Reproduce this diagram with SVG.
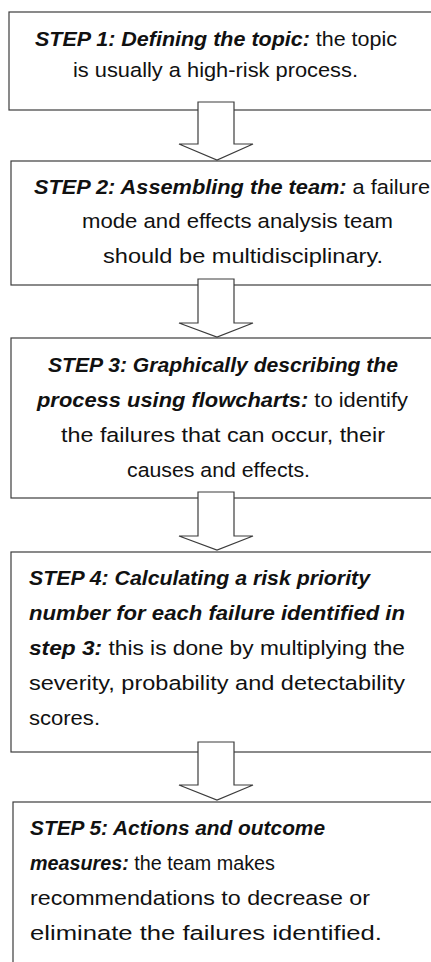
<svg xmlns="http://www.w3.org/2000/svg" width="431" height="962" viewBox="0 0 431 962">
<style>
.box{fill:#fff;stroke:#3c3c3c;stroke-width:1.2}
.arr{fill:#fff;stroke:#3c3c3c;stroke-width:1.2;stroke-linejoin:miter}
text{font-family:"Liberation Sans",Arial,sans-serif;font-size:20.5px;fill:#111}
.b{font-weight:bold;font-style:italic}
</style>
<rect width="431" height="962" fill="#fff"/>
<g id="step1">
<rect class="box" x="9" y="12" width="440" height="98"/>
<text x="35" y="46" textLength="362" lengthAdjust="spacingAndGlyphs"><tspan class="b">STEP 1: Defining the topic:</tspan> the topic</text>
<text x="73" y="77" textLength="285" lengthAdjust="spacingAndGlyphs">is usually a high-risk process.</text>
</g>
<g id="step2">
<rect class="box" x="11" y="161" width="440" height="124"/>
<text x="34" y="194" textLength="396" lengthAdjust="spacingAndGlyphs"><tspan class="b">STEP 2: Assembling the team:</tspan> a failure</text>
<text x="82" y="228" textLength="311" lengthAdjust="spacingAndGlyphs">mode and effects analysis team</text>
<text x="103" y="263" textLength="280" lengthAdjust="spacingAndGlyphs">should be multidisciplinary.</text>
</g>
<g id="step3">
<rect class="box" x="11" y="338" width="440" height="160"/>
<text x="48" y="372" textLength="350" lengthAdjust="spacingAndGlyphs"><tspan class="b">STEP 3: Graphically describing the</tspan></text>
<text x="37" y="407" textLength="371" lengthAdjust="spacingAndGlyphs"><tspan class="b">process using flowcharts:</tspan> to identify</text>
<text x="61" y="442" textLength="324" lengthAdjust="spacingAndGlyphs">the failures that can occur, their</text>
<text x="127" y="477" textLength="183" lengthAdjust="spacingAndGlyphs">causes and effects.</text>
</g>
<g id="step4">
<rect class="box" x="11" y="552" width="440" height="200"/>
<text x="29" y="585" textLength="341" lengthAdjust="spacingAndGlyphs"><tspan class="b">STEP 4: Calculating a risk priority</tspan></text>
<text x="29" y="620" textLength="376" lengthAdjust="spacingAndGlyphs"><tspan class="b">number for each failure identified in</tspan></text>
<text x="29" y="655" textLength="376" lengthAdjust="spacingAndGlyphs"><tspan class="b">step 3:</tspan> this is done by multiplying the</text>
<text x="29" y="690" textLength="376" lengthAdjust="spacingAndGlyphs">severity, probability and detectability</text>
<text x="29" y="725" textLength="71" lengthAdjust="spacingAndGlyphs">scores.</text>
</g>
<g id="step5">
<rect class="box" x="13" y="802" width="440" height="200"/>
<text x="30" y="835" textLength="295" lengthAdjust="spacingAndGlyphs"><tspan class="b">STEP 5: Actions and outcome</tspan></text>
<text x="30" y="870" textLength="245" lengthAdjust="spacingAndGlyphs"><tspan class="b">measures:</tspan> the team makes</text>
<text x="30" y="905" textLength="340" lengthAdjust="spacingAndGlyphs">recommendations to decrease or</text>
<text x="30" y="940" textLength="352" lengthAdjust="spacingAndGlyphs">eliminate the failures identified.</text>
</g>
<g id="connectors">
<polygon class="arr" points="198,102 234,102 234,144 253,144 217,160 179,144 198,144"/>
<polygon class="arr" points="198,279 234,279 234,323 253,323 217,337 179,323 198,323"/>
<polygon class="arr" points="198,492 234,492 234,536 253,536 217,550 179,536 198,536"/>
<polygon class="arr" points="198,742 234,742 234,785 253,785 217,800 179,785 198,785"/>
</g>
</svg>
